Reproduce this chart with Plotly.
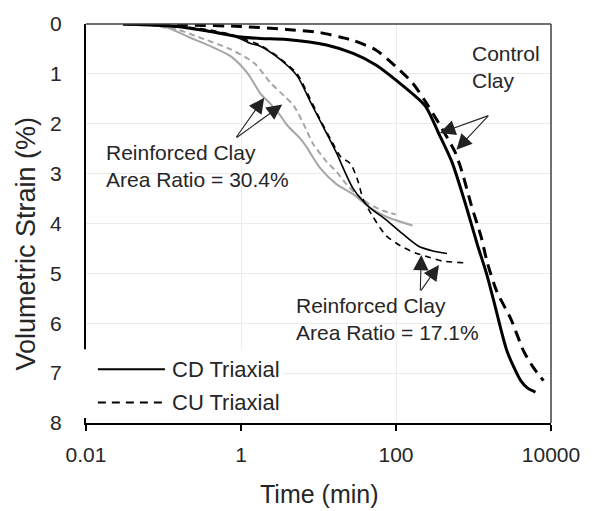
import plotly.graph_objects as go

# ---------------- data ----------------
ctrl_cd_t = [0.03, 0.15, 0.4, 1.0, 1.8, 3.9, 12.7, 28, 55, 99, 238, 350, 525, 767, 1120, 1470, 1860, 2710, 4070, 5000, 6300]
ctrl_cd_e = [0.0, 0.05, 0.15, 0.26, 0.29, 0.31, 0.42, 0.59, 0.82, 1.12, 1.64, 2.17, 2.76, 3.55, 4.42, 5.00, 5.60, 6.56, 7.15, 7.30, 7.38]

ctrl_cu_t = [0.03, 0.2, 1.0, 3.9, 10.4, 20, 28, 55, 99, 163, 260, 390, 575, 710, 940, 1250, 1510, 2020, 3030, 4440, 6000, 8000]
ctrl_cu_e = [0.0, 0.02, 0.05, 0.11, 0.17, 0.27, 0.33, 0.52, 0.85, 1.18, 1.64, 2.09, 2.56, 2.96, 3.64, 4.26, 4.79, 5.38, 5.91, 6.56, 6.90, 7.15]

r17_cd_t = [0.03, 0.16, 0.4, 0.7, 1.0, 1.33, 1.8, 3.2, 5.3, 7.8, 10.4, 13.8, 17, 28, 45, 74, 120, 193, 300, 455]
r17_cd_e = [0.0, 0.06, 0.14, 0.21, 0.30, 0.39, 0.45, 0.71, 1.04, 1.55, 1.93, 2.30, 2.58, 3.30, 3.67, 3.92, 4.20, 4.45, 4.55, 4.60]

r17_cu_t = [0.03, 0.16, 0.4, 0.7, 1.0, 1.8, 3.2, 5.3, 7.8, 10.4, 14.8, 19.7, 23, 26.4, 32.3, 37.6, 50.3, 74, 115, 178, 260, 390, 767]
r17_cu_e = [0.0, 0.05, 0.12, 0.20, 0.28, 0.43, 0.69, 1.00, 1.50, 1.90, 2.35, 2.68, 2.74, 2.82, 3.15, 3.51, 3.86, 4.24, 4.45, 4.59, 4.67, 4.75, 4.79]

r30_cd_t = [0.05, 0.107, 0.21, 0.41, 0.74, 1.22, 1.79, 2.4, 3.2, 3.94, 5.75, 7.1, 10.4, 17, 28, 45, 74, 163]
r30_cd_e = [0.0, 0.06, 0.26, 0.45, 0.65, 0.99, 1.40, 1.60, 1.83, 2.03, 2.29, 2.48, 2.88, 3.21, 3.41, 3.67, 3.86, 4.04]

r30_cu_t = [0.05, 0.157, 0.28, 0.74, 1.5, 2.4, 3.6, 4.8, 6.4, 8.5, 12.7, 17, 22.8, 30.6, 45, 67, 99]
r30_cu_e = [0.0, 0.12, 0.26, 0.51, 0.79, 1.18, 1.44, 1.64, 2.00, 2.40, 2.76, 2.96, 3.21, 3.41, 3.61, 3.74, 3.82]

x_tick_vals = [0.01, 1, 100, 10000]
x_tick_text = ["0.01", "1", "100", "10000"]
y_tick_vals = [0, 1, 2, 3, 4, 5, 6, 7, 8]

legend_labels = ["CD Triaxial", "CU Triaxial"]

FONT = "Liberation Sans, Arial, sans-serif"
TXT = "#262626"
GRAY = "#a6a6a6"

fig = go.Figure()

def add(t, e, color, width, dash):
    fig.add_trace(go.Scatter(x=t, y=e, mode="lines", showlegend=False,
                             line=dict(color=color, width=width, dash=dash,
                                       shape="spline", smoothing=0.7),
                             hoverinfo="skip"))

add(r30_cd_t, r30_cd_e, GRAY, 2, "solid")
add(r30_cu_t, r30_cu_e, GRAY, 2, "6px,4px")
add(r17_cd_t, r17_cd_e, "black", 1.6, "solid")
add(r17_cu_t, r17_cu_e, "black", 1.6, "6px,5px")
add(ctrl_cd_t, ctrl_cd_e, "black", 3, "solid")
add(ctrl_cu_t, ctrl_cu_e, "black", 3, "11px,7px")

# legend (manual, white background over grid and axis line)
LX0, LX1 = 10 ** -1.847, 10 ** -0.982
shapes = [
    dict(type="rect", xref="paper", yref="y", x0=-0.006, x1=0.426, y0=6.52, y1=7.9,
         fillcolor="white", line=dict(width=0), layer="above"),
    dict(type="line", xref="x", yref="y", x0=LX0, x1=LX1, y0=6.92, y1=6.92,
         line=dict(color="black", width=2), layer="above"),
    dict(type="line", xref="x", yref="y", x0=LX0, x1=LX1, y0=7.59, y1=7.59,
         line=dict(color="black", width=2, dash="8px,6px"), layer="above"),
    # top / right frame
    dict(type="line", xref="paper", yref="paper", x0=0, x1=1, y0=1, y1=1,
         line=dict(color="#404040", width=1.5), layer="above"),
    dict(type="line", xref="paper", yref="paper", x0=1, x1=1, y0=0, y1=1,
         line=dict(color="#404040", width=1.5), layer="above"),
]

annotations = [
    dict(x=-0.919, y=6.92, xref="x", yref="y", text=legend_labels[0], showarrow=False,
         xanchor="left", yanchor="middle", font=dict(size=22, color=TXT, family=FONT)),
    dict(x=-0.919, y=7.59, xref="x", yref="y", text=legend_labels[1], showarrow=False,
         xanchor="left", yanchor="middle", font=dict(size=22, color=TXT, family=FONT)),
    dict(x=-1.771, y=2.85, xref="x", yref="y", text="Reinforced Clay<br>Area Ratio = 30.4%",
         showarrow=False, xanchor="left", yanchor="middle", align="left",
         font=dict(size=21, color=TXT, family=FONT)),
    dict(x=2.949, y=0.86, xref="x", yref="y", text="Control<br>Clay",
         showarrow=False, xanchor="left", yanchor="middle", align="left",
         font=dict(size=21, color=TXT, family=FONT)),
    dict(x=0.684, y=5.92, xref="x", yref="y", text="Reinforced Clay<br>Area Ratio = 17.1%",
         showarrow=False, xanchor="left", yanchor="middle", align="left",
         font=dict(size=21, color=TXT, family=FONT)),
    # axis titles
    dict(x=-0.129, y=0.45, xref="paper", yref="paper", text="Volumetric Strain (%)",
         textangle=-90, showarrow=False, xanchor="center", yanchor="middle",
         font=dict(size=27, color=TXT, family=FONT)),
    dict(x=0.503, y=-0.177, xref="paper", yref="paper", text="Time (min)",
         showarrow=False, xanchor="center", yanchor="middle",
         font=dict(size=25, color=TXT, family=FONT)),
]

arrows = [
    (0.299, 1.478, -29, 41), (0.532, 1.616, -47, 34),
    (2.567, 2.187, 50, -18), (2.78, 2.52, 33, -35),
    (2.326, 4.63, -1, 37), (2.555, 4.83, -19, 27),
]
for x, y, ax, ay in arrows:
    annotations.append(dict(x=x, y=y, xref="x", yref="y", ax=ax, ay=ay, text="",
                            showarrow=True, arrowhead=2, arrowsize=2.8, arrowwidth=1.1,
                            arrowcolor="#222", standoff=0))

fig.update_layout(
    width=592, height=511,
    margin=dict(l=86, r=34, t=17, b=88),
    paper_bgcolor="white", plot_bgcolor="white",
    font=dict(family=FONT, color=TXT, size=21),
    shapes=shapes, annotations=annotations,
    showlegend=False,
)
fig.update_xaxes(type="log", range=[-2, 4], tickvals=x_tick_vals, ticktext=x_tick_text,
                 showgrid=True, gridcolor="#ebebeb", gridwidth=1,
                 showline=True, linecolor="black", linewidth=2,
                 ticks="outside", ticklen=6, tickwidth=2, tickcolor="black",
                 ticklabelstandoff=6, tickfont=dict(size=21, color=TXT),
                 zeroline=False)
fig.update_yaxes(range=[8, 0], tickvals=y_tick_vals,
                 showgrid=True, gridcolor="#ebebeb", gridwidth=1,
                 showline=True, linecolor="black", linewidth=2,
                 ticks="", ticklabelstandoff=18, tickfont=dict(size=21, color=TXT),
                 zeroline=False)

fig.write_html("out.html")
